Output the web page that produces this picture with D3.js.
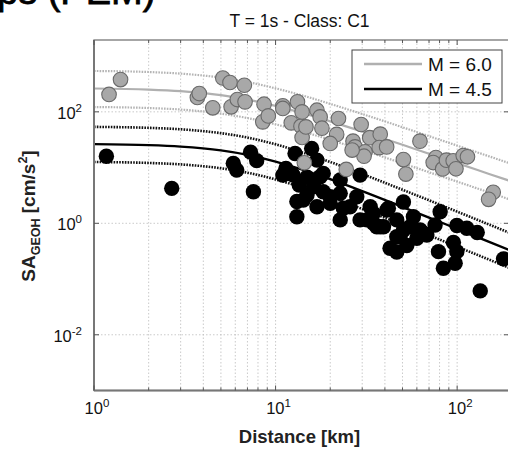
<!DOCTYPE html>
<html><head><meta charset="utf-8">
<script src="https://cdn.jsdelivr.net/npm/d3@7"></script>
<style>
html,body{margin:0;padding:0;background:#fff;}
svg{display:block;font-family:"Liberation Sans",Arial,sans-serif;}
</style></head>
<body>
<svg id="chart" width="508" height="449"></svg>
<script>
// ---- data ----
const titleText = "T = 1s - Class: C1";
const xTicks = [1, 10, 100];
const yTicks = [0.01, 1, 100];
const xMinor = [2,3,4,5,6,7,8,9,20,30,40,50,60,70,80,90];
const legendLabels = ["M = 6.0", "M = 4.5"];

const curveDist = [1, 2, 3, 5, 7, 10, 15, 20, 30, 50, 70, 100, 150, 200];
const m60Median = [262, 251, 235, 199, 166, 128, 89.4, 67.5, 44.3, 25.6, 17.7, 12.0, 7.69, 5.61];
const m60Upper  = [541, 518, 485, 411, 343, 264, 185, 139, 91.5, 52.9, 36.6, 24.8, 15.9, 11.6];
const m60Lower  = [122, 117, 110, 92.8, 77.4, 59.7, 41.7, 31.5, 20.7, 11.9, 8.25, 5.6, 3.58, 2.61];
const m45Median = [26.3, 25.3, 23.8, 20.3, 16.9, 12.8, 8.55, 6.18, 3.77, 1.96, 1.27, 0.794, 0.466, 0.318];
const m45Upper  = [53.7, 51.6, 48.6, 41.4, 34.5, 26.1, 17.4, 12.6, 7.69, 4.0, 2.59, 1.62, 0.95, 0.65];
const m45Lower  = [12.6, 12.1, 11.4, 9.72, 8.1, 6.13, 4.1, 2.96, 1.81, 0.94, 0.61, 0.38, 0.223, 0.152];

const m60Dist = [1.21,1.40,3.71,3.80,4.51,5.12,5.61,5.69,6.16,6.73,6.79,8.50,8.64,9.12,10.96,10.96,12.2,13.2,13.8,14.0,14.0,14.7,14.4,16.9,17.6,18.0,22.2,29.6,21.7,20.0,26.7,27.4,31.1,30.7,33.0,37.7,37.2,40.9,24.5,50.6,52.2,62.4,76.4,73.8,83.2,87.3,95.1,98.5,108,114,158,149,26.4];
const m60SA   = [205,379,181,213,118,405,336,123,166,300,151,66.1,137,84.6,128,115,63.4,151,55.3,99.8,34.7,53.7,12.2,107,81.2,50.9,76.0,59.3,39.4,27.1,29.8,23.5,19.2,16.0,34.4,39.8,22.8,23.5,9.27,13.9,7.64,29.8,15.1,12.3,9.46,13.6,13.2,9.5,16.4,15.6,3.61,2.69,20.6];

const m45Dist = [1.17,2.68,5.85,6.11,7.28,7.87,7.55,10.96,11.4,12.5,12.8,13.5,13.1,14.9,15.8,16.9,16.2,14.9,17.6,18.3,22.7,29.2,18.3,22.7,28.0,14.2,16.9,20.0,25.7,33.2,41.0,50.6,80.6,22.7,29.2,34.6,39.3,50.6,46.5,99.6,129,13.1,20.0,23.6,34.6,41.8,37.7,46.5,57.4,62.5,75.6,42.7,46.5,52.8,60.0,68.1,78.9,113,95.4,97.5,84.0,180,134,31.8,48.5,55.1,36.1,65.2,99.6];
const m45SA   = [16.0,4.24,11.9,9.01,18.9,13.3,3.68,7.33,9.66,7.33,17.9,4.85,2.46,6.75,22.0,13.6,4.53,3.21,6.84,7.86,5.97,7.33,3.68,3.45,2.99,2.61,1.98,2.28,1.98,1.98,1.73,2.41,1.61,1.15,1.15,1.0,0.869,0.759,0.575,0.913,0.684,1.31,2.99,1.86,1.51,1.86,0.869,1.15,1.31,0.759,0.932,0.357,0.306,0.40,0.538,0.617,0.31,0.814,0.453,0.192,0.156,0.23,0.0613,1.15,0.575,0.869,0.869,0.662,0.31];

// ---- layout ----
const L = 94, R = 509, T = 40, B = 390.5;
const svg = d3.select("#chart");
const x = d3.scaleLog().domain([1, 193]).range([L, R]);
const y = d3.scaleLog().domain([0.001, 1945]).range([B, T]);

svg.append("defs").append("clipPath").attr("id","clip")
  .append("rect").attr("x",L).attr("y",T).attr("width",R-L).attr("height",B-T);

// heading fragment at top-left (cropped in the original figure)
svg.append("text").attr("x",-3).attr("y",4).attr("font-size",38).attr("fill","#000")
  .attr("stroke","#000").attr("stroke-width",0.8)
  .text("ps (PEM)");

// title
svg.append("text").attr("x",(L+R)/2 - 2).attr("y",27).attr("text-anchor","middle")
  .attr("font-size",17.5).attr("fill","#111").text(titleText);

// grid
const grid = svg.append("g").attr("stroke","#bdbdbd").attr("stroke-width",0.8).attr("stroke-dasharray","1.5,2");
xMinor.concat(xTicks.slice(1)).forEach(v=>{
  grid.append("line").attr("x1",x(v)).attr("x2",x(v)).attr("y1",T).attr("y2",B);
});
yTicks.forEach(v=>{
  grid.append("line").attr("x1",L).attr("x2",R).attr("y1",y(v)).attr("y2",y(v));
});

// curves
const plot = svg.append("g").attr("clip-path","url(#clip)");
const line = d3.line().x(d=>x(d[0])).y(d=>y(d[1])).curve(d3.curveMonotoneX);
function curve(vals, color, width, dash){
  plot.append("path").datum(curveDist.map((d,i)=>[d, vals[i]]))
    .attr("d", line).attr("fill","none").attr("stroke",color)
    .attr("stroke-width",width).attr("stroke-dasharray",dash||null);
}
curve(m60Upper, "#b4b4b4", 2.2, "1.6,1.2");
curve(m60Lower, "#b4b4b4", 2.2, "1.6,1.2");
curve(m60Median, "#b0b0b0", 2.2);
curve(m45Upper, "#111", 2.6, "1.6,1.2");
curve(m45Lower, "#111", 2.6, "1.6,1.2");
curve(m45Median, "#000", 2.4);

// points
plot.append("g").selectAll("circle").data(m45Dist.map((d,i)=>[d,m45SA[i]])).join("circle")
  .attr("cx",d=>x(d[0])).attr("cy",d=>y(d[1])).attr("r",7.7).attr("fill","#000");
plot.append("g").selectAll("circle").data(m60Dist.map((d,i)=>[d,m60SA[i]])).join("circle")
  .attr("cx",d=>x(d[0])).attr("cy",d=>y(d[1])).attr("r",7.3)
  .attr("fill","#a8a8a8").attr("stroke","#6a6a6a").attr("stroke-width",1.1);

// axes box
const ax = svg.append("g").attr("stroke","#777").attr("fill","none");
ax.append("rect").attr("x",L).attr("y",T).attr("width",R-L).attr("height",B-T).attr("stroke-width",1.3);
ax.append("line").attr("x1",L).attr("x2",L).attr("y1",T).attr("y2",B).attr("stroke-width",2);
ax.append("line").attr("x1",L).attr("x2",R).attr("y1",B).attr("y2",B).attr("stroke-width",2);

// ticks
const tk = svg.append("g").attr("stroke","#555").attr("stroke-width",1);
xMinor.forEach(v=>{
  tk.append("line").attr("x1",x(v)).attr("x2",x(v)).attr("y1",B).attr("y2",B-3);
  tk.append("line").attr("x1",x(v)).attr("x2",x(v)).attr("y1",T).attr("y2",T+3);
});
xTicks.forEach(v=>{
  tk.append("line").attr("x1",x(v)).attr("x2",x(v)).attr("y1",B).attr("y2",B-5);
  tk.append("line").attr("x1",x(v)).attr("x2",x(v)).attr("y1",T).attr("y2",T+5);
});
yTicks.forEach(v=>{
  tk.append("line").attr("x1",L).attr("x2",L+5).attr("y1",y(v)).attr("y2",y(v));
  tk.append("line").attr("x1",R).attr("x2",R-5).attr("y1",y(v)).attr("y2",y(v));
});

// tick labels
function powLabel(g, px, py, exp, anchor){
  const t = g.append("text").attr("x",px).attr("y",py).attr("text-anchor",anchor)
    .attr("font-size",16.5).attr("fill","#111");
  t.append("tspan").text("10");
  t.append("tspan").attr("dy",-7).attr("font-size",11.5).text(exp);
}
xTicks.forEach(v=>{
  powLabel(svg, x(v)+3, B+23, String(Math.round(Math.log10(v))), "middle");
});
yTicks.forEach(v=>{
  powLabel(svg, L-12, y(v)+7, String(Math.round(Math.log10(v))), "end");
});

// axis labels
svg.append("text").attr("x",(L+R)/2 - 2).attr("y",443).attr("text-anchor","middle")
  .attr("font-size",18.5).attr("font-weight","bold").attr("fill","#222").text("Distance [km]");
const yl = svg.append("text").attr("transform","translate(35,216) rotate(-90)")
  .attr("text-anchor","middle").attr("font-size",19).attr("font-weight","bold").attr("fill","#222");
yl.append("tspan").text("SA");
yl.append("tspan").attr("dy",5).attr("font-size",12.5).text("GEOH");
yl.append("tspan").attr("dy",-5).text(" [cm/s");
yl.append("tspan").attr("dy",-8).attr("font-size",12.5).text("2");
yl.append("tspan").attr("dy",8).text("]");

// legend
const lg = svg.append("g");
lg.append("rect").attr("x",352).attr("y",50).attr("width",150).attr("height",53)
  .attr("fill","#fff").attr("stroke","#444").attr("stroke-width",1);
const legColors = ["#b0b0b0","#000"];
legendLabels.forEach((lab,i)=>{
  const yy = 64 + i*25;
  lg.append("line").attr("x1",364).attr("x2",422).attr("y1",yy).attr("y2",yy)
    .attr("stroke",legColors[i]).attr("stroke-width",2.4);
  lg.append("text").attr("x",428).attr("y",yy+7).attr("font-size",19).attr("fill","#111").text(lab);
});
</script>
</body></html>
